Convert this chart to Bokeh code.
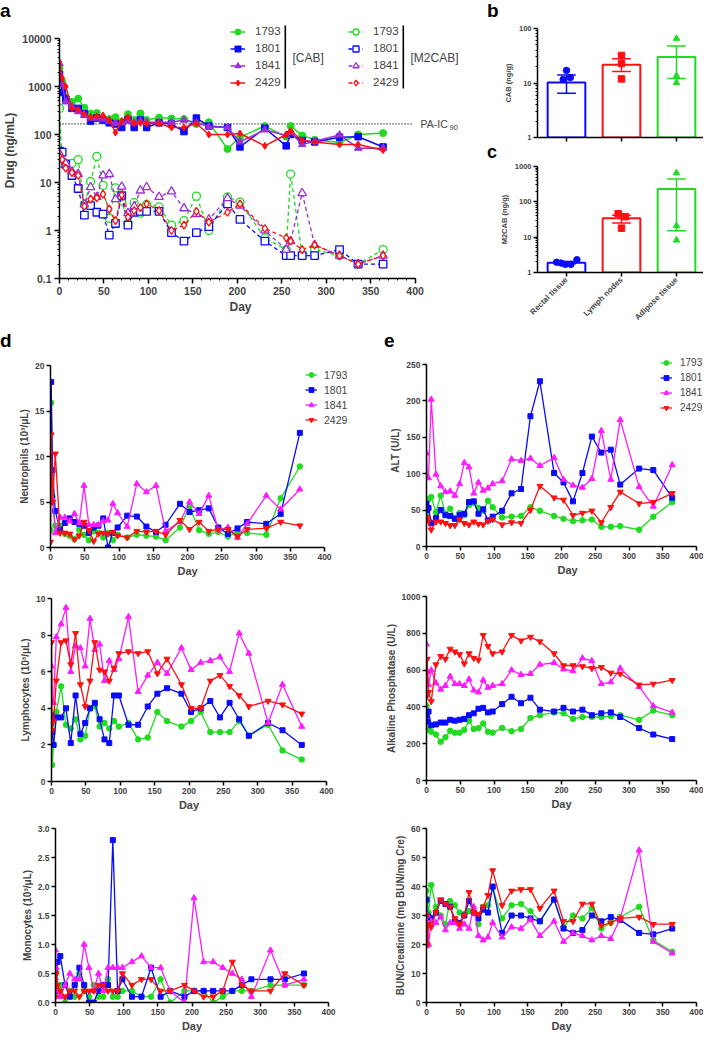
import numpy as np
from bokeh.plotting import figure
from bokeh.layouts import row, column
from bokeh.models import (Range1d, FixedTicker, CustomJSTickFormatter, NumeralTickFormatter,
                          Legend, LegendItem, Label, BoxAnnotation, Title, Div)
from bokeh.embed import file_html
from bokeh.resources import INLINE

FONT = "Liberation Sans"
GREEN = "#1fdc1f"
BLUE = "#0a0aff"
PURPLE = "#9a2fd6"
MAGENTA = "#ff1aff"
RED = "#ff1010"

# ---------------- panel a : plasma drug levels ----------------
days_pk = [0, 3, 7, 14, 21, 28, 35, 42, 49, 56, 63, 70, 77, 84, 91, 98, 112, 126, 140,
           154, 168, 189, 203, 231, 255, 260, 273, 287, 315, 336, 364]
cab_1793 = [2400, 1280, 600, 480, 560, 360, 270, 280, 205, 210, 230, 185, 265, 200, 275, 200,
            225, 215, 210, 165, 180, 50, 88, 150, 90, 150, 95, 78, 68, 100, 107]
cab_1801 = [1800, 750, 550, 350, 350, 270, 190, 220, 200, 175, 165, 140, 205, 140, 200, 140,
            175, 165, 115, 220, 150, 140, 55, 135, 58, 100, 75, 70, 88, 90, 55]
cab_1841 = [3000, 1100, 480, 380, 300, 250, 220, 220, 210, 190, 170, 175, 190, 175, 190, 180,
            180, 180, 200, 175, 145, 140, 70, 125, 95, 110, 62, 72, 98, 52, 52]
cab_2429 = [3200, 1500, 1000, 350, 330, 270, 230, 240, 250, 200, 110, 190, 230, 170, 175, 170,
            170, 140, 140, 170, 100, 100, 105, 58, 100, 120, 75, 70, 62, 62, 47]
m2_1793 = [350, 25, 25, 25, 30, 3.5, 10.5, 35, 8.7, 1.8, 7.7, 4.1, 1.4, 3.8, 2.3, 3.5,
           3.1, 1.3, 1.6, 5.2, 1.0, 5.0, 3.9, 0.7, 0.4, 15, 0.3, 0.4, 0.3, 0.2, 0.4]
m2_1801 = [45, 43, 24, 14, 7.5, 2.1, 3.3, 2.4, 2.2, 0.8, 1.4, 5.3, 1.3, 2.4, 2.5, 2.5,
           2.5, 0.9, 0.6, 0.9, 1.2, 3.6, 1.7, 0.6, 0.3, 0.3, 0.3, 0.3, 0.4, 0.2, 0.2]
m2_1841 = [40, 30, 25, 17, 15, 3.5, 8, 5, 14, 15, 4.5, 8.2, 2.3, 3.2, 6.8, 8,
           5, 6.5, 2.9, 2.2, 1.7, 4.7, 3.3, 1.0, 0.4, 0.6, 6, 0.5, 0.3, 0.2, 0.3]
m2_2429 = [35, 30, 20, 16, 14, 3.2, 4.5, 4.8, 5.7, 2.8, 1.6, 5.5, 1.9, 2.6, 3.0, 3.6,
           2.6, 1.0, 1.3, 2.5, 1.5, 2.4, 3.6, 1.1, 0.7, 0.6, 0.4, 0.5, 0.3, 0.2, 0.3]
pa_ic90 = 166
pa_line_end = 398
a_ticks = [0.1, 1, 10, 100, 1000, 10000]

# ---------------- panels b, c : tissue levels ----------------
tissues = ["Rectal tissue", "Lymph nodes", "Adipose tissue"]
cab_mean = [10.2, 21.6, 29.9]
cab_lo = [6.5, 16.3, 12.1]
cab_hi = [14.0, 28.0, 47.5]
cab_rectal = [17, 11.6, 12.6]
cab_lymph = [32, 22.8, 11.9]
cab_adipose = [65.6, 13.5, 10.1]
cab_rectal_jit = [0.0, -0.06, 0.07]
m2cab_mean = [1.9, 34.4, 232]
m2cab_lo = [1.78, 25.2, 15.3]
m2cab_hi = [2.05, 41.4, 444]
m2cab_rectal = [1.95, 1.85, 1.7, 1.7, 2.3]
m2cab_lymph = [46, 38, 18]
m2cab_adipose = [658, 21, 8.2]
m2cab_rectal_jit = [-0.18, -0.1, -0.02, 0.08, 0.19]
m2cab_lymph_jit = [-0.06, 0.07, 0.0]

# ---------------- panels d, e : blood chemistry ----------------
animals = ["1793", "1801", "1841", "2429"]
days_lab = [0, 1, 3, 7, 14, 21, 28, 35, 42, 49, 56, 63, 70, 77, 84, 91, 98, 112, 126, 140,
            154, 168, 189, 203, 217, 231, 245, 259, 273, 287, 315, 336, 364]
neut = {
    "1793": [1.9, 15.9, 5.6, 2.4, 2.4, 1.5, 1.3, 0.9, 2.0, 1.4, 0.8, 1.8, 1.6, 1.1, 1.6, 0.8, 1.4,
             1.1, 1.4, 1.3, 1.2, 0.8, 2.2, 4.5, 1.9, 1.5, 1.7, 1.2, 1.7, 1.6, 1.4, 5.4, 8.9],
    "1801": [5.0, 18.2, 8.5, 4.0, 1.9, 2.7, 3.2, 2.8, 2.6, 2.4, 1.6, 2.2, 2.4, 3.2, 0.0, 1.6, 2.2,
             3.5, 3.4, 2.3, 1.7, 2.5, 4.8, 3.9, 4.1, 4.3, 2.2, 1.5, 2.1, 2.8, 2.6, 3.7, 12.6],
    "1841": [4.9, 5.5, 5.3, 1.6, 3.3, 3.3, 2.9, 3.7, 2.7, 6.8, 2.5, 2.5, 2.5, 2.9, 3.0, 4.8, 3.8,
             2.3, 7.0, 6.1, 6.8, 1.8, 2.8, 5.0, 3.7, 5.7, 1.9, 2.2, 1.1, 2.6, 5.7, 4.2, 6.4],
    "2429": [0.6, 12.4, 5.0, 10.3, 1.6, 1.6, 1.5, 0.9, 1.3, 2.8, 1.9, 0.7, 1.5, 1.6, 1.5, 1.7, 1.3,
             1.1, 1.8, 1.7, 1.8, 1.4, 3.0, 2.0, 2.8, 1.8, 2.0, 2.0, 1.2, 2.0, 2.1, 2.8, 2.4],
}
lymph = {
    "1793": [3.1, 0.9, 2.0, 3.8, 5.2, 3.1, 2.9, 3.4, 2.3, 2.5, 4.0, 4.1, 3.0, 3.2, 2.9, 3.3, 3.0,
             3.2, 2.3, 2.4, 3.8, 3.3, 3.0, 3.3, 3.8, 2.7, 2.7, 2.7, 3.3, 2.5, 3.1, 1.7, 1.2],
    "1801": [3.6, 2.7, 2.0, 3.5, 3.5, 4.0, 2.1, 4.7, 2.6, 3.2, 4.0, 4.3, 3.4, 2.3, 2.1, 4.7, 4.7,
             3.1, 3.1, 4.1, 4.8, 5.1, 4.8, 3.8, 4.0, 4.4, 3.5, 4.3, 3.4, 2.5, 3.2, 2.8, 2.0],
    "1841": [6.3, 4.4, 4.3, 7.9, 8.6, 9.5, 6.0, 7.4, 7.3, 6.3, 8.9, 7.2, 7.5, 5.5, 6.6, 6.1, 6.7,
             9.0, 4.9, 5.8, 6.5, 5.9, 7.3, 6.1, 6.5, 6.6, 6.8, 6.0, 8.1, 7.0, 3.2, 5.3, 3.0],
    "2429": [7.6, 2.8, 3.3, 5.5, 7.6, 7.7, 6.4, 8.1, 5.3, 4.1, 5.5, 7.6, 6.1, 6.0, 5.5, 6.2, 7.0,
             7.1, 7.0, 7.1, 5.9, 6.7, 5.3, 4.0, 4.0, 5.5, 5.8, 5.2, 4.7, 4.1, 4.4, 4.2, 3.7],
}
mono = {
    "1793": [0.4, 0.5, 0.2, 0.3, 0.0, 0.2, 0.1, 0.5, 0.2, 0.1, 0.3, 0.1, 0.1, 0.4, 0.1, 0.1, 0.2,
             0.2, 0.1, 0.1, 0.4, 0.0, 0.2, 0.2, 0.2, 0.0, 0.1, 0.2, 0.2, 0.2, 0.3, 0.3, 0.3],
    "1801": [0.3, 0.2, 0.7, 0.8, 0.3, 0.1, 0.3, 0.6, 0.3, 0.0, 0.0, 0.2, 0.3, 0.3, 2.8, 0.2, 0.4,
             0.1, 0.1, 0.6, 0.1, 0.2, 0.1, 0.2, 0.2, 0.2, 0.2, 0.2, 0.3, 0.4, 0.4, 0.4, 0.5],
    "1841": [0.9, 0.6, 0.2, 0.1, 0.3, 0.5, 0.4, 0.4, 1.0, 0.6, 0.2, 0.5, 0.2, 0.6, 0.6, 0.6, 0.6,
             0.7, 0.8, 0.6, 0.6, 0.2, 0.0, 1.8, 0.7, 0.7, 0.6, 0.5, 0.4, 0.1, 0.9, 0.3, 0.4],
    "2429": [0.1, 0.5, 0.3, 0.2, 0.1, 0.2, 0.2, 0.1, 0.2, 0.2, 0.2, 0.3, 0.3, 0.2, 0.2, 0.2, 0.5,
             0.3, 0.4, 0.4, 0.2, 0.2, 0.3, 0.2, 0.1, 0.1, 0.2, 0.7, 0.3, 0.2, 0.2, 0.5, 0.3],
}
alt = {
    "1793": [46, 51, 65, 68, 47, 70, 45, 52, 39, 46, 43, 57, 60, 53, 49, 63, 54,
             40, 41, 42, 54, 49, 42, 38, 35, 36, 37, 27, 27, 28, 23, 41, 61],
    "1801": [59, 50, 53, 32, 39, 50, 43, 42, 38, 43, 45, 61, 62, 45, 51, 36, 41,
             49, 73, 79, 179, 227, 101, 88, 62, 101, 151, 129, 133, 85, 107, 105, 67],
    "1841": [128, 95, 94, 202, 99, 83, 75, 76, 70, 86, 115, 109, 73, 88, 77, 80, 86,
             90, 120, 118, 121, 111, 122, 92, 84, 81, 93, 159, 92, 174, 82, 55, 112],
    "2429": [36, 40, 35, 23, 34, 34, 32, 29, 29, 37, 32, 30, 34, 31, 30, 35, 37,
             30, 33, 32, 50, 83, 67, 64, 43, 46, 49, 33, 54, 75, 59, 61, 73],
}
alp = {
    "1793": [405, 275, 275, 265, 250, 210, 235, 270, 260, 260, 275, 325, 280, 285, 310, 265, 260,
             285, 268, 280, 340, 355, 370, 365, 335, 345, 345, 345, 350, 355, 330, 380, 355],
    "1801": [355, 320, 375, 300, 305, 315, 315, 330, 325, 330, 335, 355, 365, 390, 395, 370, 375,
             415, 455, 420, 450, 385, 375, 395, 375, 385, 355, 365, 370, 345, 285, 250, 225],
    "1841": [740, 590, 520, 600, 530, 495, 515, 565, 525, 525, 515, 550, 490, 480, 545, 505, 515,
             525, 600, 575, 580, 630, 640, 605, 595, 665, 650, 525, 535, 610, 510, 405, 370],
    "2429": [455, 660, 480, 430, 630, 675, 660, 715, 700, 685, 635, 690, 665, 655, 790, 730, 690,
             700, 790, 760, 780, 755, 690, 625, 625, 620, 610, 615, 585, 580, 520, 525, 545],
}
bun = {
    "1793": [38.5, 35, 31, 40.5, 33, 30, 27, 35, 33.5, 31, 30.5, 31.5, 31, 27, 33, 33.5, 39.5,
             29, 33.5, 34, 31.5, 28, 35.5, 26, 30, 29, 32.5, 25.5, 27.5, 29.5, 33, 21.5, 17.5],
    "1801": [35.5, 30, 29.5, 29, 31, 35, 34, 33, 28, 27.5, 30, 35, 31, 29, 32, 31, 40,
             24, 30, 30, 29, 28, 35.5, 25.5, 24, 25, 30, 28, 29.5, 28.5, 24, 23.5, 25.5],
    "1841": [19.5, 30, 20, 28, 27.5, 29.5, 25, 27.5, 27.5, 25.5, 27, 25.5, 33, 23, 21.5, 22.5, 27.5,
             22.5, 26, 25.5, 28.5, 23, 28, 21, 24, 23, 21.5, 23, 22, 29, 52.5, 21, 17],
    "2429": [30, 20, 27, 26, 31, 35.5, 34, 33, 29, 27, 30, 38, 31, 30.5, 33, 37, 45.5,
             33.5, 38.5, 39, 39, 32.5, 38.5, 28, 28, 34, 34, 26.5, 27.5, 29, 29.5, 27, 27],
}


def make(w, h, l, r, t, b, xr, yr, ytype="linear"):
    p = figure(width=w, height=h, x_range=xr, y_range=yr, y_axis_type=ytype,
               output_backend="svg", toolbar_location=None,
               min_border_left=l, min_border_right=r, min_border_top=t, min_border_bottom=b)
    try:
        p.frame_align = False
    except Exception:
        pass
    p.xgrid.visible = False
    p.ygrid.visible = False
    p.outline_line_color = None
    return p


def style(ax, tick_size, label_size, tick_out=4, std=2, lstd=2, minor=False):
    ax.axis_line_color = "black"
    ax.axis_line_width = 1.5
    ax.major_tick_line_color = "black"
    ax.major_tick_line_width = 1.5
    ax.major_tick_in = 0
    ax.major_tick_out = tick_out
    if minor:
        ax.minor_tick_line_color = "black"
        ax.minor_tick_line_width = 1
        ax.minor_tick_in = 0
        ax.minor_tick_out = 2
    else:
        ax.minor_tick_line_color = None
    ax.major_label_text_font = FONT
    ax.major_label_text_font_style = "bold"
    ax.major_label_text_font_size = tick_size
    ax.major_label_standoff = std
    ax.axis_label_text_font = FONT
    ax.axis_label_text_font_style = "bold"
    ax.axis_label_text_font_size = label_size
    ax.axis_label_standoff = lstd


def add_legend(p, items, loc, font_size, gw, standoff, row_h):
    leg = Legend(items=items, location=loc, padding=0, margin=0, spacing=0,
                 glyph_width=gw, glyph_height=row_h, label_height=row_h, label_standoff=standoff,
                 label_text_font=FONT, label_text_font_size=font_size,
                 border_line_color=None, background_fill_alpha=0)
    p.add_layout(leg)


def day_title(p, offset, size):
    p.add_layout(Title(text="Day", align="left", offset=offset, standoff=0,
                       text_font=FONT, text_font_size=size, text_font_style="bold"), "below")


def letter_div(txt, w, h, left, size=19):
    html = ('<div style="font-family: \'Liberation Sans\', Arial, sans-serif; font-weight: bold; '
            'font-size: %dpx; line-height: %dpx; margin: 0; padding: 0 0 0 %dpx; '
            'color: black;">%s</div>' % (size, h, left, txt))
    return Div(text=html, width=w, height=h, margin=0)


log_fmt = CustomJSTickFormatter(code="return tick.toString();")

# ================= panel a =================
pa = make(472, 308, 54, 10, 0, 52, Range1d(0, 400 * 408 / 360.0),
          Range1d(0.1, 10 ** (4 + 16 / 48.0)), "log")
pa.xaxis.ticker = FixedTicker(ticks=list(range(0, 401, 50)), minor_ticks=list(range(0, 401, 10)))
pa.yaxis.ticker = FixedTicker(ticks=a_ticks,
                              minor_ticks=[m * 10.0 ** e for e in range(-1, 4) for m in range(2, 10)])
pa.yaxis.formatter = log_fmt
pa.xaxis.bounds = (0, 400)
pa.yaxis.bounds = (a_ticks[0], a_ticks[-1])
for ax in pa.axis:
    style(ax, "10.5px", "12px", tick_out=5, std=3, lstd=2, minor=True)
pa.yaxis.axis_label = "Drug (ng/mL)"
day_title(pa, 170, "12px")

pa.segment(x0=[0], y0=[pa_ic90], x1=[pa_line_end], y1=[pa_ic90],
           line_color="black", line_width=1.2, line_dash="1 2")
pa.add_layout(Label(x=361, y=pa_ic90, x_units="screen", y_units="data", text="PA-IC",
                    text_font=FONT, text_font_size="10.5px", text_baseline="middle"))
pa.add_layout(Label(x=390, y=151, x_units="screen", y_units="screen", text="90",
                    text_font=FONT, text_font_size="7.5px", text_baseline="middle"))

colors_a = [GREEN, BLUE, PURPLE, RED]
markers_a = ["circle", "square", "triangle", "diamond"]
sizes_a = [7, 6.5, 7.5, 7]
m2_items, cab_items = [], []
for lab, vals, c, mk, sz in zip(animals, [m2_1793, m2_1801, m2_1841, m2_2429], colors_a, markers_a, sizes_a):
    lr = pa.line(days_pk, vals, line_color=c, line_width=1.3, line_dash="4 3")
    sr = pa.scatter(days_pk, vals, marker=mk, size=sz + 1, fill_color="white", line_color=c, line_width=1.3)
    m2_items.append(LegendItem(label=lab, renderers=[lr, sr]))
for lab, vals, c, mk, sz in zip(animals, [cab_1793, cab_1801, cab_1841, cab_2429], colors_a, markers_a, sizes_a):
    lr = pa.line(days_pk, vals, line_color=c, line_width=1.5)
    sr = pa.scatter(days_pk, vals, marker=mk, size=sz, fill_color=c, line_color=c)
    cab_items.append(LegendItem(label=lab, renderers=[lr, sr]))

add_legend(pa, cab_items, (171, 187.5), "11.5px", 15, 10, 17)
add_legend(pa, m2_items, (289, 187.5), "11.5px", 15, 10, 17)
for xs in (225, 343):
    pa.add_layout(BoxAnnotation(left=xs, right=xs + 1.6, top=253, bottom=190,
                                left_units="screen", right_units="screen",
                                top_units="screen", bottom_units="screen",
                                fill_color="black", fill_alpha=1, line_color=None))
pa.add_layout(Label(x=233, y=221, x_units="screen", y_units="screen", text="[CAB]",
                    text_font=FONT, text_font_size="12px", text_baseline="middle"))
pa.add_layout(Label(x=351, y=221, x_units="screen", y_units="screen", text="[M2CAB]",
                    text_font=FONT, text_font_size="12px", text_baseline="middle"))

# ================= panels b, c =================
xpos = np.arange(3)
tcolors = [BLUE, RED, GREEN]
tmarkers = ["circle", "square", "triangle"]


def bar_panel(p, mean, lo, hi, pts, jits):
    p.vbar(x=xpos, top=mean, bottom=1, width=0.685, fill_color="white",
           line_color=tcolors, line_width=2)
    p.segment(x0=xpos, y0=lo, x1=xpos, y1=hi, line_color=tcolors, line_width=1.5)
    p.segment(x0=xpos - 0.17, y0=hi, x1=xpos + 0.17, y1=hi, line_color=tcolors, line_width=1.5)
    p.segment(x0=xpos - 0.17, y0=lo, x1=xpos + 0.17, y1=lo, line_color=tcolors, line_width=1.5)
    for i, (vals, jit) in enumerate(zip(pts, jits)):
        p.scatter(x=[i + j for j in jit], y=vals, marker=tmarkers[i], size=6.5,
                  fill_color=tcolors[i], line_color=tcolors[i])


pb = make(231, 120, 65, 0, 6, 5, Range1d(-0.527, 2.491), Range1d(1, 100), "log")
bar_panel(pb, cab_mean, cab_lo, cab_hi, [cab_rectal, cab_lymph, cab_adipose],
          [cab_rectal_jit, [0, 0, 0], [0, 0, 0]])
pb.yaxis.ticker = FixedTicker(ticks=[1, 10, 100],
                              minor_ticks=[m * 10.0 ** e for e in range(0, 2) for m in range(2, 10)])
pb.yaxis.formatter = log_fmt
pb.xaxis.ticker = FixedTicker(ticks=[0, 1, 2])
pb.xaxis.major_label_overrides = {0: "", 1: "", 2: ""}
for ax in pb.axis:
    style(ax, "7.5px", "7.5px", tick_out=4, std=2, lstd=3, minor=False)
pb.xaxis.major_label_text_font_size = "1px"
pb.xaxis.major_label_standoff = 0
pb.yaxis.minor_tick_line_color = "black"
pb.yaxis.minor_tick_in = 0
pb.yaxis.minor_tick_out = 2
pb.yaxis.axis_label = "CAB (ng/g)"

pc = make(231, 168, 65, 0, 4, 58, Range1d(-0.527, 2.491), Range1d(1, 1000), "log")
bar_panel(pc, m2cab_mean, m2cab_lo, m2cab_hi, [m2cab_rectal, m2cab_lymph, m2cab_adipose],
          [m2cab_rectal_jit, m2cab_lymph_jit, [0, 0, 0]])
pc.yaxis.ticker = FixedTicker(ticks=[1, 10, 100, 1000],
                              minor_ticks=[m * 10.0 ** e for e in range(0, 3) for m in range(2, 10)])
pc.yaxis.formatter = log_fmt
pc.xaxis.ticker = FixedTicker(ticks=[0, 1, 2])
pc.xaxis.major_label_overrides = {i: t for i, t in enumerate(tissues)}
for ax in pc.axis:
    style(ax, "7.5px", "7.5px", tick_out=4, std=2, lstd=3, minor=False)
pc.xaxis.major_label_text_font_size = "8px"
pc.xaxis.major_label_orientation = np.pi / 4
pc.yaxis.minor_tick_line_color = "black"
pc.yaxis.minor_tick_in = 0
pc.yaxis.minor_tick_out = 2
pc.yaxis.axis_label = "M2CAB (ng/g)"

# ================= panels d, e =================
lab_colors = [GREEN, BLUE, MAGENTA, RED]
lab_markers = ["circle", "square", "triangle", "inverted_triangle"]
lab_sizes = [5.5, 5, 6, 6]


def lab_panel(w, h, l, r, t, b, yr, yticks, ylabel, data, fmt=None, xend=400, day=None):
    p = make(w, h, l, r, t, b, Range1d(0, xend), yr)
    p.xaxis.ticker = FixedTicker(ticks=list(range(0, 401, 50)))
    p.yaxis.ticker = FixedTicker(ticks=yticks)
    p.xaxis.bounds = (0, 400)
    p.yaxis.bounds = (yticks[0], yticks[-1])
    if fmt is not None:
        p.yaxis.formatter = fmt
    for ax in p.axis:
        style(ax, "8.5px", "10px", tick_out=4, std=2, lstd=2)
    p.xaxis.axis_label_text_font_size = "11px"
    if day is None:
        p.xaxis.axis_label = "Day"
    else:
        day_title(p, day, "11px")
    p.yaxis.axis_label = ylabel
    items = []
    for lab, c, mk, sz in zip(animals, lab_colors, lab_markers, lab_sizes):
        lr = p.line(days_lab, data[lab], line_color=c, line_width=1.3)
        sr = p.scatter(days_lab, data[lab], marker=mk, size=sz, fill_color=c, line_color=c)
        items.append(LegendItem(label=lab, renderers=[lr, sr]))
    return p, items


d1, it = lab_panel(350, 233, 50, 0, 13, 38, Range1d(0, 20), [0, 5, 10, 15, 20],
                   "Neutrophils (10³/μL)", neut, xend=400 * 300 / 274.0, day=127)
add_legend(d1, it, (255, 120), "10.5px", 12, 7, 15)
d2, _ = lab_panel(350, 233, 51, 24, 13, 37, Range1d(0, 10), [0, 2, 4, 6, 8, 10],
                  "Lymphocytes (10³/μL)", lymph)
d3, _ = lab_panel(350, 216, 55, 22, 10, 31, Range1d(0, 3), [0, 0.5, 1.0, 1.5, 2.0, 2.5, 3.0],
                  "Monocytes (10³/μL)", mono, NumeralTickFormatter(format="0.0"))

e1, it = lab_panel(353, 233, 76, 0, 2, 39, Range1d(0, 250 * 192 / 182.0),
                   [0, 50, 100, 150, 200, 250], "ALT (U/L)", alt,
                   xend=400 * 277 / 270.0, day=131)
add_legend(e1, it, (234, 131.5), "10px", 12, 8, 15)
e2, _ = lab_panel(353, 233, 76, 7, 11, 38, Range1d(0, 1000), [0, 200, 400, 600, 800, 1000],
                  "Alkaline Phosphatase (U/L)", alp)
e3, _ = lab_panel(353, 216, 76, 7, 10, 31, Range1d(0, 60), [0, 10, 20, 30, 40, 50, 60],
                  "BUN/Creatinine (mg BUN/mg Cre)", bun)

layout = column(
    row(letter_div("a", 472, 22, 0), letter_div("b", 231, 22, 15)),
    row(pa, column(pb, letter_div("c", 231, 20, 15, size=18), pc)),
    row(letter_div("d", 350, 22, 0), letter_div("e", 353, 22, 34)),
    row(column(d1, d2, d3), column(e1, e2, e3)),
)

open("out.html", "w").write(file_html(layout, INLINE))
